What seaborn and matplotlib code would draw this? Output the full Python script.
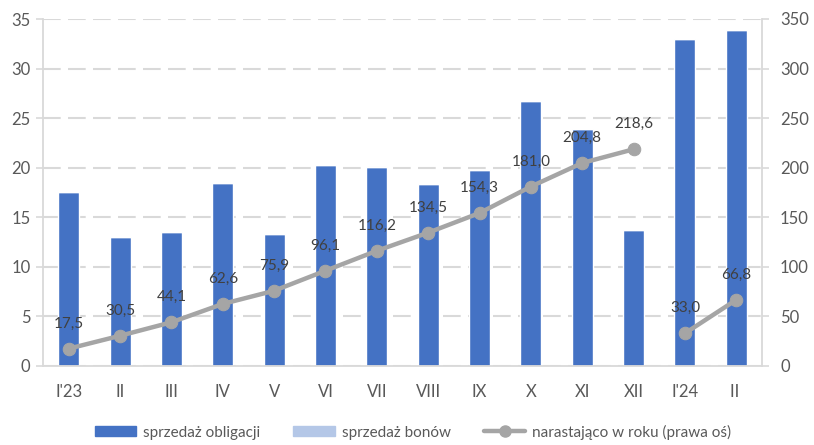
import matplotlib
matplotlib.use("Agg")
import matplotlib.pyplot as plt
from matplotlib.patches import Patch
from matplotlib.lines import Line2D
import numpy as np
import pandas as pd
import seaborn as sns

months = ["I'23", "II", "III", "IV", "V", "VI", "VII", "VIII", "IX", "X", "XI", "XII", "I'24", "II "]
bonds_sales = [17.6, 13.0, 13.5, 18.5, 13.3, 20.3, 20.1, 18.4, 19.8, 26.7, 23.9, 13.7, 33.0, 33.9]
bills_sales = [0, 0, 0, 0, 0, 0, 0, 0, 0, 0, 0, 0, 0, 0]
cumulative = [17.5, 30.5, 44.1, 62.6, 75.9, 96.1, 116.2, 134.5, 154.3, 181.0, 204.8, 218.6, 33.0, 66.8]
year = [2023] * 12 + [2024] * 2

sns.set_theme(style="white")
plt.rcParams["font.family"] = ["Lato", "DejaVu Sans"]

BLUE = "#4472C4"
LIGHT = "#B4C7E7"
GREY = "#A5A5A5"
TXT = "#595959"
GRID = "#D9D9D9"

fig = plt.figure(figsize=(8.14, 4.45), dpi=100)
ax = fig.add_axes([43 / 814, 1 - 366 / 445, 719 / 814, 347 / 445])

df = pd.DataFrame({"m": months, "obl": bonds_sales, "bon": bills_sales,
                   "cum": cumulative, "rok": year, "pos": np.arange(len(months))})

sns.barplot(data=df, x="m", y="obl", color=BLUE, width=0.41, saturation=1,
            ax=ax, zorder=2)
ax.bar(df["pos"], df["bon"], bottom=df["obl"], width=0.41, color=LIGHT, zorder=2)

ax.set_ylim(0, 35)
ax.set_yticks(np.arange(0, 36, 5))
ax.set_xlim(-0.5, len(months) - 0.5)
ax.set_xlabel("")
ax.set_ylabel("")
ax.yaxis.grid(True, linestyle=(0, (8.5, 3.5)), color=GRID, linewidth=1.5, zorder=0)
ax.set_axisbelow(True)

# category boundary ticks on the x axis
ax.set_xticks(np.arange(len(months)))
ax.set_xticklabels(months)
ax.set_xticks(np.arange(-0.5, len(months)), minor=True)
ax.tick_params(axis="x", which="major", length=0, pad=13, labelsize=12, labelcolor=TXT)
ax.tick_params(axis="x", which="minor", length=5, color=GRID, width=1.2)
ax.tick_params(axis="y", length=5, color=GRID, width=1.2, labelsize=12, labelcolor=TXT, pad=4)

for s in ["top", "right"]:
    ax.spines[s].set_visible(False)
for s in ["left", "bottom"]:
    ax.spines[s].set_color(GRID)
    ax.spines[s].set_linewidth(1.3)

ax2 = ax.twinx()
for yr, sub in df.groupby("rok"):
    sns.lineplot(data=sub, x="pos", y="cum", color=GREY, linewidth=3.2,
                 marker="o", markersize=9, markeredgecolor=GREY, ax=ax2,
                 legend=False, zorder=3)
for p, v in zip(df["pos"], df["cum"]):
    ax2.annotate(f"{v:.1f}".replace(".", ","), (p, v), xytext=(0, 13),
                 textcoords="offset points", ha="center", va="bottom",
                 fontsize=11, color="#404040", zorder=4)

ax2.set_ylim(0, 350)
ax2.set_yticks(np.arange(0, 351, 50))
ax2.set_xlim(-0.5, len(months) - 0.5)
ax2.set_xlabel("")
ax2.set_ylabel("")
ax2.tick_params(axis="y", length=5, color=GRID, width=1.2, labelsize=12, labelcolor=TXT, pad=8)
for s in ["top", "left", "bottom"]:
    ax2.spines[s].set_visible(False)
ax2.spines["right"].set_color(GRID)
ax2.spines["right"].set_linewidth(1.3)

handles = [Patch(color=BLUE), Patch(color=LIGHT),
           Line2D([0], [0], color=GREY, linewidth=3.2, marker="o", markersize=8)]
labels = ["sprzedaż obligacji", "sprzedaż bonów", "narastająco w roku (prawa oś)"]
fig.legend(handles, labels, loc="center", bbox_to_anchor=(413 / 814, 1 - 432 / 445),
           ncol=3, frameon=False, fontsize=11, labelcolor=TXT, handlelength=2.7,
           handleheight=0.65, columnspacing=2.2, handletextpad=0.45)

fig.savefig("out.png", dpi=100)
